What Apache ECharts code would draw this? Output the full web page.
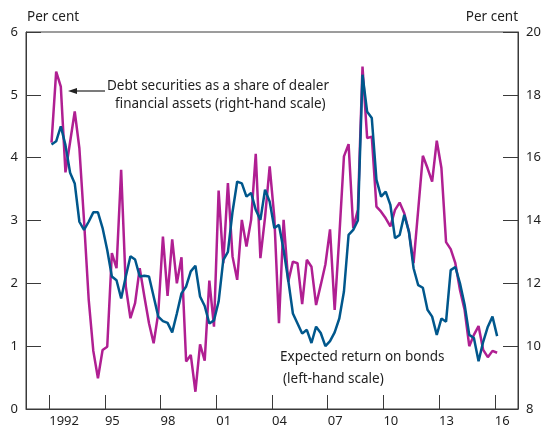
<!DOCTYPE html>
<html>
<head>
<meta charset="utf-8">
<script src="https://cdn.jsdelivr.net/npm/echarts@6/dist/echarts.min.js"></script>
<style>
    html, body { margin: 0; padding: 0; background: #fff; }
    #chart1 { width: 547px; height: 428px; }
</style>
</head>
<body>
<div id="chart1"></div>
<script>
// quarterly data, 1992 Q1 - 2016 Q1
var quarters = [];
for (var q = 0; q < 97; q++) {
    quarters.push(1992.125 + q * 0.25);
}
var yearTicks = [1992, 1995, 1998, 2001, 2004, 2007, 2010, 2013, 2016];
var yearLabels = ['1992', '95', '98', '01', '04', '07', '10', '13', '16'];

// expected return on bonds (left-hand scale, per cent)
var expectedReturn = [
    4.21, 4.26, 4.50, 4.20, 3.76, 3.59, 2.98, 2.85, 2.98, 3.13, 3.13, 2.88,
    2.53, 2.11, 2.05, 1.76, 2.11, 2.43, 2.38, 2.11, 2.12, 2.11, 1.79, 1.47,
    1.40, 1.37, 1.22, 1.52, 1.84, 1.95, 2.19, 2.28, 1.79, 1.64, 1.36, 1.41,
    1.71, 2.37, 2.50, 3.14, 3.62, 3.59, 3.38, 3.44, 3.17, 3.01, 3.49, 3.30,
    2.88, 2.93, 2.53, 2.05, 1.52, 1.36, 1.20, 1.26, 1.05, 1.31, 1.21, 1.00,
    1.08, 1.22, 1.44, 1.87, 2.77, 2.85, 3.00, 5.32, 4.73, 4.63, 3.65, 3.38,
    3.46, 3.25, 2.72, 2.77, 3.09, 2.82, 2.24, 1.97, 1.93, 1.58, 1.47, 1.18,
    1.44, 1.39, 2.21, 2.26, 2.00, 1.66, 1.18, 1.13, 0.76, 1.07, 1.31, 1.47,
    1.16
];
// debt securities as a share of dealer financial assets (right-hand scale, per cent)
var debtShare = [
    16.48, 18.74, 18.26, 15.53, 16.50, 17.47, 16.30, 14.00, 11.50, 9.85, 8.98, 9.88,
    9.98, 12.96, 12.48, 15.61, 11.90, 10.89, 11.37, 12.48, 11.58, 10.73, 10.09, 11.05,
    13.49, 11.60, 13.40, 12.00, 12.83, 9.51, 9.72, 8.55, 10.06, 9.54, 12.09, 10.62,
    14.95, 12.64, 15.19, 12.85, 12.11, 14.02, 13.17, 14.02, 16.12, 12.80, 14.10, 15.72,
    14.10, 10.73, 14.02, 12.05, 12.69, 12.64, 11.34, 12.75, 12.53, 11.31, 11.95, 12.60,
    13.72, 11.15, 13.49, 16.04, 16.43, 13.76, 14.34, 18.90, 16.62, 16.67, 14.44, 14.28,
    14.07, 13.81, 14.34, 14.57, 14.23, 13.65, 12.64, 14.34, 16.06, 15.67, 15.24, 16.54,
    15.67, 13.31, 13.09, 12.64, 11.79, 11.15, 10.00, 10.36, 10.64, 9.88, 9.65, 9.85,
    9.79
];

drawChart1();

function pairs(values) {
    var out = [];
    for (var i = 0; i < values.length; i++) {
        out.push([quarters[i], values[i]]);
    }
    return out;
}

function drawChart1() {
    var dom1 = document.getElementById("chart1");
    var myChart1 = echarts.init(dom1);
    var font = 'Noto Sans';
    var noteFont = '13.5px "Noto Sans"';
    var axisColor = '#3a3a3a';
    var textColor = '#1e1e1e';
    var option = {
        animation: false,
        textStyle: {
            fontFamily: font
        },
        grid: {
            left: 26,
            right: 29,
            top: 32,
            bottom: 19,
            show: true,
            borderColor: axisColor,
            borderWidth: 1
        },
        xAxis: {
            type: 'value',
            min: 1990.75,
            max: 2017.25,
            splitLine: { show: false },
            axisLine: {
                lineStyle: { color: axisColor }
            },
            axisTick: {
                inside: true,
                length: 14,
                customValues: yearTicks,
                lineStyle: { color: axisColor }
            },
            axisLabel: {
                customValues: yearTicks,
                align: 'left',
                margin: 6,
                color: textColor,
                fontSize: 13,
                fontFamily: font,
                formatter: function (v) {
                    return yearLabels[yearTicks.indexOf(Math.round(v))];
                }
            }
        },
        yAxis: [{
            type: 'value',
            min: 0,
            max: 6,
            interval: 1,
            position: 'left',
            splitLine: { show: false },
            axisLine: {
                show: true,
                lineStyle: { color: axisColor }
            },
            axisTick: {
                show: true,
                inside: true,
                length: 15,
                lineStyle: { color: axisColor }
            },
            axisLabel: {
                margin: 8,
                color: textColor,
                fontSize: 13,
                fontFamily: font
            }
        }, {
            type: 'value',
            min: 8,
            max: 20,
            interval: 2,
            position: 'right',
            splitLine: { show: false },
            axisLine: {
                show: true,
                lineStyle: { color: axisColor }
            },
            axisTick: {
                show: true,
                inside: true,
                length: 15,
                lineStyle: { color: axisColor }
            },
            axisLabel: {
                margin: 8,
                color: textColor,
                fontSize: 13,
                fontFamily: font
            }
        }],
        graphic: [
            { type: 'text', left: 27, top: 10, style: { text: 'Per cent', fill: textColor, font: noteFont } },
            { type: 'text', right: 29, top: 10, style: { text: 'Per cent', fill: textColor, font: noteFont } },
            { type: 'text', left: 107, top: 79, style: { text: 'Debt securities as a share of dealer', fill: textColor, font: noteFont } },
            { type: 'text', left: 115, top: 97, style: { text: 'financial assets (right-hand scale)', fill: textColor, font: noteFont } },
            { type: 'text', left: 280, top: 350, style: { text: 'Expected return on bonds', fill: textColor, font: noteFont } },
            { type: 'text', left: 283, top: 372, style: { text: '(left-hand scale)', fill: textColor, font: noteFont } },
            { type: 'line', shape: { x1: 75, y1: 91, x2: 105, y2: 91 }, style: { stroke: '#222', lineWidth: 1.2 } },
            { type: 'polygon', shape: { points: [[68, 91], [77, 88], [77, 94]] }, style: { fill: '#222' } }
        ],
        series: [{
            name: 'Debt securities as a share of dealer financial assets',
            type: 'line',
            yAxisIndex: 1,
            showSymbol: false,
            lineStyle: { width: 2.5, color: '#B01F92' },
            itemStyle: { color: '#B01F92' },
            data: pairs(debtShare)
        }, {
            name: 'Expected return on bonds',
            type: 'line',
            yAxisIndex: 0,
            showSymbol: false,
            lineStyle: { width: 2.5, color: '#00578C' },
            itemStyle: { color: '#00578C' },
            data: pairs(expectedReturn)
        }]
    };
    myChart1.setOption(option, true);
    window.onresize = myChart1.resize;
}
</script>
</body>
</html>
